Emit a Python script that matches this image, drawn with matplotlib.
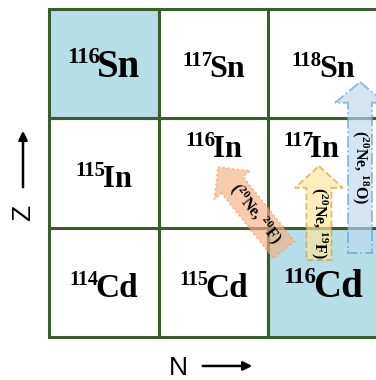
import matplotlib.pyplot as plt
from matplotlib.patches import Rectangle, FancyArrow
from matplotlib.transforms import ScaledTranslation

plt.rcParams['mathtext.fontset'] = 'custom'
plt.rcParams['mathtext.rm'] = 'Liberation Serif:bold'
plt.rcParams['mathtext.it'] = 'Liberation Serif:bold'
plt.rcParams['mathtext.bf'] = 'Liberation Serif:bold'

# chart of nuclides: rows are Z (bottom -> top), columns are N
elements = ["Cd", "In", "Sn"]
first_mass = [114, 115, 116]
n_cols = 3
highlighted = [("Cd", 116), ("Sn", 116)]

# reaction channels, arrows given in grid units (tail -> tip)
reactions = ["(${}^{20}$Ne, ${}^{20}$F)", "(${}^{20}$Ne, ${}^{19}$F)", "(${}^{20}$Ne, ${}^{18}$O)"]
tails = [(2.142, 0.796), (2.461, 0.704), (2.835, 0.768)]
tips = [(1.541, 1.555), (2.461, 1.564), (2.835, 2.333)]

# label styling
main_size = {"Cd": 24, "In": 22, "Sn": 23}
sup_size = {"Cd": 14.5, "In": 15, "Sn": 15}
big_main, big_sup = 28, 16.5
label_drop = {"Cd": 0.13, "In": 0.125, "Sn": 0.125}
raised_cells = {("In", 116): (0.0, 0.27), ("In", 117): (-0.11, 0.27)}

fig = plt.figure(figsize=(3.76, 3.80), dpi=100)
ax = fig.add_axes([0, 0, 1, 1])
ax.set_xlim(-0.4467, 2.981)
ax.set_ylim(-0.3934, 3.083)
ax.axis('off')

line_color = '#3A5E29'
cell_blue = '#B7DDE8'

labels = []
for row, el in enumerate(elements):
    for col in range(n_cols):
        mass = first_mass[row] + col
        face = cell_blue if (el, mass) in highlighted else 'white'
        ax.add_patch(Rectangle((col, row), 1, 1, facecolor=face,
                               edgecolor=line_color, lw=2.2, zorder=1))
        if (el, mass) in highlighted:
            ms, ss = big_main, big_sup
        else:
            ms, ss = main_size[el], sup_size[el]
        dx, dy = raised_cells.get((el, mass), (0.0, 0.0))
        cx = col + 0.5 + dx
        cy = row + 0.5 - label_drop[el] + dy
        t_sup = ax.text(cx, cy, str(mass), fontsize=ss, family='Liberation Serif',
                        weight='bold', ha='left', va='baseline', zorder=5)
        t_main = ax.text(cx, cy, el, fontsize=ms, family='Liberation Serif',
                         weight='bold', ha='left', va='baseline', zorder=5)
        labels.append((t_sup, t_main, ms))

# reaction arrows, semi-transparent over the grid
fills = ['#F4B183', '#FFE699', '#BDD7EE']
edges = ['#EE9A62', '#C9A12E', '#5B9BD5']
styles = [':', '--', '-.']
widths = [0.247, 0.228, 0.219]
head_w = [0.42, 0.438, 0.457]
head_l = [0.21, 0.2, 0.19]
text_rot = [-51.5, -90, -90]
text_pos = [0.56, 0.6, 0.5]
for i, name in enumerate(reactions):
    (x0, y0), (x1, y1) = tails[i], tips[i]
    arr = FancyArrow(x0, y0, x1 - x0, y1 - y0, width=widths[i],
                     head_width=head_w[i], head_length=head_l[i],
                     length_includes_head=True, facecolor=fills[i],
                     edgecolor=edges[i], linestyle=styles[i], lw=1.3,
                     alpha=0.65, zorder=3)
    ax.add_patch(arr)
    f = text_pos[i]
    ax.text(x1 + (x0 - x1) * f, y1 + (y0 - y1) * f, name, fontsize=11.5,
            family='Liberation Serif', weight='bold', rotation=text_rot[i],
            rotation_mode='anchor', ha='center', va='center', zorder=6)

# N and Z direction markers
ax.annotate('', xy=(1.878, -0.265), xytext=(1.376, -0.265),
            arrowprops=dict(arrowstyle='-|>', color='black', lw=1.8, mutation_scale=13))
ax.text(1.176, -0.284, 'N', fontsize=19, family='Liberation Sans',
        ha='center', va='center')
ax.annotate('', xy=(-0.237, 1.912), xytext=(-0.237, 1.345),
            arrowprops=dict(arrowstyle='-|>', color='black', lw=1.8, mutation_scale=13))
ax.text(-0.237, 1.134, 'Z', fontsize=19, family='Liberation Sans',
        rotation=90, ha='center', va='center')

# centre each superscript + symbol pair on its anchor
fig.canvas.draw()
renderer = fig.canvas.get_renderer()
for t_sup, t_main, ms in labels:
    w_s = t_sup.get_window_extent(renderer).width
    w_m = t_main.get_window_extent(renderer).width
    gap = -3.0
    total = w_s + gap + w_m
    raise_px = 0.36 * ms * 100 / 72
    t_sup.set_transform(ax.transData + ScaledTranslation(
        -total / 2 / 100, raise_px / 100, fig.dpi_scale_trans))
    t_main.set_transform(ax.transData + ScaledTranslation(
        (-total / 2 + w_s + gap) / 100, 0, fig.dpi_scale_trans))

fig.savefig('out.png', dpi=100)
